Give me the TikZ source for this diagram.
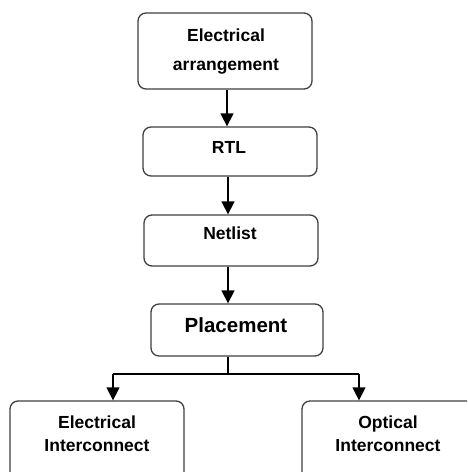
\documentclass[tikz,border=0pt]{standalone}
\usepackage{fontspec}
\setmainfont{Liberation Sans}
\usetikzlibrary{arrows.meta}
\begin{document}
\begin{tikzpicture}[x=1pt,y=-1pt,
  box/.style={draw=black!75, line width=1.3pt, rounded corners=8pt, fill=white, inner sep=0pt},
  lbl/.style={font=\fontsize{17.5}{23}\selectfont\bfseries, align=center, inner sep=0pt},
  arr/.style={draw=black, line width=1.3pt, -{Triangle[width=13pt,length=13pt]}},
  ln/.style={draw=black, line width=1.3pt}]
\useasboundingbox (0,0) rectangle (467,472);
\clip (0,0) rectangle (467,472);
\node[box, minimum width=174pt, minimum height=76pt] (b1) at (225,51) {};
\node[lbl] (t1) at (226,52) {Electrical\\[6pt]arrangement};
\node[box, minimum width=174pt, minimum height=49pt] (b2) at (230,151.5) {};
\node[lbl] (t2) at (229,147) {RTL};
\node[box, minimum width=174pt, minimum height=51pt] (b3) at (231,240.5) {};
\node[lbl] (t3) at (230,233) {Netlist};
\node[box, minimum width=172pt, minimum height=52pt] (b4) at (237,330) {};
\node[lbl, font=\fontsize{20.5}{25}\selectfont\bfseries] (t4) at (236,325) {Placement};
\node[box, minimum width=174pt, minimum height=100pt] (b5) at (97,451) {};
\node[lbl] (t5) at (97,433.5) {Electrical\\Interconnect};
\node[box, minimum width=174pt, minimum height=100pt] (b6) at (389,451) {};
\node[lbl] (t6) at (388,433.5) {Optical\\Interconnect};
\coordinate (j) at (228,374);
\coordinate (jl) at (113,374);
\coordinate (jr) at (359,374);
\draw[arr] (227,0 |- b1.south) -- (227,0 |- b2.north);
\draw[arr] (228,0 |- b2.south) -- (228,0 |- b3.north);
\draw[arr] (228,0 |- b3.south) -- (228,0 |- b4.north);
\draw[ln] (j |- b4.south) -- (j);
\draw[ln] (jl) -- (jr);
\draw[arr] (jl) -- (jl |- b5.north);
\draw[arr] (jr) -- (jr |- b6.north);
\end{tikzpicture}
\end{document}
